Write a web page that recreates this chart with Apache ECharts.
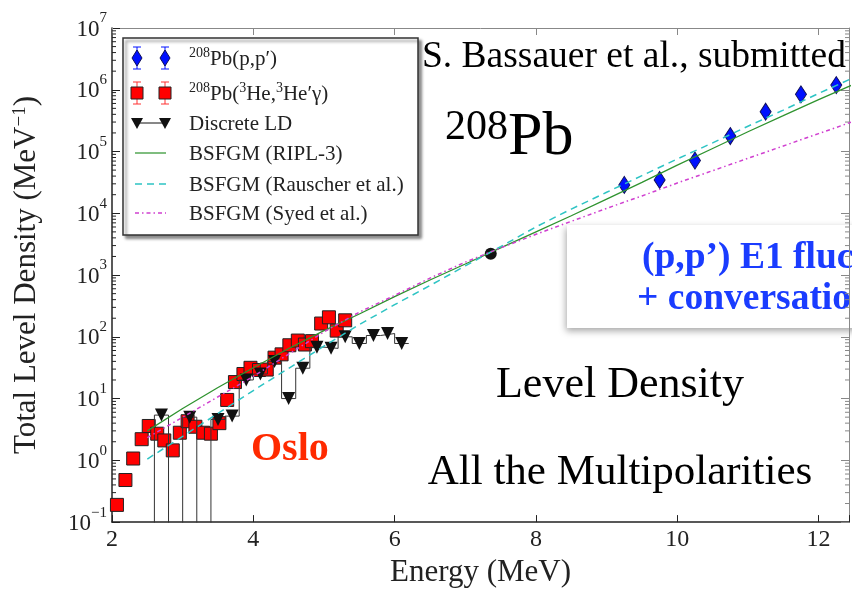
<!DOCTYPE html>
<html>
<head>
<meta charset="utf-8">
<script src="https://cdn.jsdelivr.net/npm/echarts@6/dist/echarts.min.js"></script>
<style>
  html, body { margin: 0; padding: 0; background: #fff; }
  #chart { width: 852px; height: 593px; }
</style>
</head>
<body>
<div id="chart"></div>
<script>
const SERIF = '"Liberation Serif", "Times New Roman", serif';

// 208Pb(3He,3He'γ) level density (Oslo method)
const osloE = [2.07, 2.19, 2.30, 2.42, 2.52, 2.64, 2.74, 2.86, 2.96, 3.07, 3.18, 3.29, 3.40, 3.52, 3.63, 3.74, 3.86, 3.96, 4.08, 4.19, 4.30, 4.40, 4.51, 4.63, 4.73, 4.83, 4.96, 5.07, 5.18, 5.30];
const osloRho = [0.19, 0.48, 1.07, 2.2, 3.6, 2.7, 2.1, 1.45, 2.8, 4.3, 3.5, 2.8, 2.7, 4.0, 9.5, 18.5, 25, 31.5, 29, 29.5, 46, 52, 73, 87, 75, 85, 164, 207, 126, 185];

// 208Pb(p,p') level density
const ppE = [9.25, 9.75, 10.25, 10.75, 11.25, 11.75, 12.25];
const ppRho = [28800, 34700, 71300, 178000, 441000, 843000, 1190000];

// discrete level density, 0.2 MeV bins (0 = empty bin)
const discreteE = [2.7, 2.9, 3.1, 3.3, 3.5, 3.7, 3.9, 4.1, 4.3, 4.5, 4.7, 4.9, 5.1, 5.3, 5.5, 5.7, 5.9, 6.1];
const discreteRho = [5.4, 0, 5.0, 0, 4.6, 5.2, 20, 25, 40, 10, 31, 68, 65, 100, 78, 105, 113, 78];
const discreteBin = 0.2;

// density at the neutron separation energy
const snPoint = [[7.36, 2220]];

// back-shifted Fermi gas model curves
const modelE = [2.5, 3.0, 3.5, 4.0, 4.5, 5.0, 5.5, 6.0, 6.5, 7.0, 7.5, 8.0, 8.5, 9.0, 9.5, 10.0, 10.5, 11.0, 11.5, 12.0, 12.5];
const riplRho = [3.0, 6.9, 15.1, 31.6, 64.6, 126, 234, 447, 832, 1510, 2750, 5010, 9120, 17000, 31600, 60300, 112000, 209000, 380000, 692000, 1230000];
const rauscherRho = [1.05, 2.45, 5.75, 13.5, 30.9, 70.8, 158, 331, 676, 1410, 2880, 6030, 11700, 21900, 40700, 75900, 138000, 257000, 468000, 871000, 1580000];
const syedRho = [2.34, 5.0, 10.7, 22.9, 52.5, 120, 251, 468, 891, 1620, 2750, 4570, 7410, 12000, 19100, 30900, 49000, 77600, 123000, 195000, 309000];

// axis ranges and ticks
const xRange = [2, 12.43];
const yRange = [0.1, 1e7];
const minorMultipliers = [2, 3, 4, 5, 6, 7, 8, 9];
const decades = [-1, 0, 1, 2, 3, 4, 5, 6];

const pairs = (xs, ys) => xs.map((x, i) => [x, ys[i]]);

// histogram outline for the discrete levels; empty bins drop below the axis floor
function stepOutline(centers, vals, width) {
  const floor = yRange[0] / 100;
  const pts = [[centers[0] - width / 2, floor]];
  centers.forEach((c, i) => {
    const v = vals[i] > 0 ? vals[i] : floor;
    pts.push([c - width / 2, v], [c + width / 2, v]);
  });
  return pts;
}

const minorTicks = [];
decades.forEach(d => minorMultipliers.forEach(m => minorTicks.push([xRange[0], m * Math.pow(10, d)])));

const supLabel = v => {
  const e = Math.round(Math.log10(v));
  return '{b|10}{s|' + (e < 0 ? '\u2212' + (-e) : e) + '}';
};

const chart = echarts.init(document.getElementById('chart'), null, { renderer: 'canvas' });

// legend drawn as a framed panel
const LX1 = 137, LX2 = 165, LT = 189;
const rowY = [58, 93, 123, 153, 184, 213];
const legendItems = [];
legendItems.push({
  type: 'rect', shape: { x: 123, y: 38, width: 295, height: 197 },
  style: { fill: '#fff', stroke: '#333', lineWidth: 1.5, shadowBlur: 3, shadowOffsetX: 3, shadowOffsetY: 3, shadowColor: 'rgba(0,0,0,0.45)' }
});
[LX1, LX2].forEach(x => {
  const y = rowY[0];
  legendItems.push(
    { type: 'line', shape: { x1: x, y1: y - 11, x2: x, y2: y + 11 }, style: { stroke: '#0010ff', lineWidth: 1 } },
    { type: 'line', shape: { x1: x - 4, y1: y - 11, x2: x + 4, y2: y - 11 }, style: { stroke: '#0010ff', lineWidth: 1 } },
    { type: 'line', shape: { x1: x - 4, y1: y + 11, x2: x + 4, y2: y + 11 }, style: { stroke: '#0010ff', lineWidth: 1 } },
    { type: 'polygon', shape: { points: [[x, y - 8], [x + 5, y], [x, y + 8], [x - 5, y]] }, style: { fill: '#0010ff', stroke: '#10105a', lineWidth: 1 } }
  );
  const y2 = rowY[1];
  legendItems.push(
    { type: 'line', shape: { x1: x, y1: y2 - 11, x2: x, y2: y2 + 11 }, style: { stroke: '#ff3030', lineWidth: 1 } },
    { type: 'line', shape: { x1: x - 4, y1: y2 - 11, x2: x + 4, y2: y2 - 11 }, style: { stroke: '#ff3030', lineWidth: 1 } },
    { type: 'line', shape: { x1: x - 4, y1: y2 + 11, x2: x + 4, y2: y2 + 11 }, style: { stroke: '#ff3030', lineWidth: 1 } },
    { type: 'rect', shape: { x: x - 6, y: y2 - 6, width: 12, height: 12 }, style: { fill: '#ff0000', stroke: '#222', lineWidth: 1 } }
  );
});
legendItems.push({ type: 'line', shape: { x1: LX1, y1: rowY[2], x2: LX2, y2: rowY[2] }, style: { stroke: '#111', lineWidth: 1 } });
[LX1, LX2].forEach(x => {
  const y = rowY[2];
  legendItems.push({ type: 'polygon', shape: { points: [[x - 6, y - 5], [x + 6, y - 5], [x, y + 6]] }, style: { fill: '#111' } });
});
legendItems.push(
  { type: 'line', shape: { x1: 135, y1: rowY[3], x2: 166, y2: rowY[3] }, style: { stroke: '#3a9a3a', lineWidth: 1.3 } },
  { type: 'line', shape: { x1: 135, y1: rowY[4], x2: 166, y2: rowY[4] }, style: { stroke: '#2ec4c4', lineWidth: 1.4, lineDash: [7, 5] } },
  { type: 'line', shape: { x1: 135, y1: rowY[5], x2: 166, y2: rowY[5] }, style: { stroke: '#d040d0', lineWidth: 1.4, lineDash: [4, 3, 1.5, 3] } }
);
const legendSup = {
  n: { fontSize: 21, fontFamily: SERIF, fill: '#222', lineHeight: 23, verticalAlign: 'bottom' },
  s: { fontSize: 14, fontFamily: SERIF, fill: '#222', lineHeight: 14, verticalAlign: 'top' }
};
const legendTexts = [
  '{s|208}{n|Pb(p,p\u2032)}',
  '{s|208}{n|Pb(}{s|3}{n|He,}{s|3}{n|He\u2032\u03b3)}',
  '{n|Discrete LD}',
  '{n|BSFGM (RIPL-3)}',
  '{n|BSFGM (Rauscher et al.)}',
  '{n|BSFGM (Syed et al.)}'
];
legendTexts.forEach((t, i) => {
  legendItems.push({
    type: 'text', x: LT, y: rowY[i],
    style: { text: t, fontFamily: SERIF, fontSize: 21, fill: '#222', verticalAlign: 'middle', rich: legendSup }
  });
});

const annotations = [
  { type: 'text', x: 422, y: 57, style: { text: 'S. Bassauer et al., submitted', fontFamily: SERIF, fontSize: 37.5, fill: '#000', verticalAlign: 'middle' } },
  { type: 'text', x: 445, y: 107, style: {
      text: '{s|208}{b|Pb}', verticalAlign: 'top',
      rich: {
        s: { fontSize: 42, fontFamily: SERIF, fill: '#000', lineHeight: 42, verticalAlign: 'top' },
        b: { fontSize: 62, fontFamily: SERIF, fill: '#000', lineHeight: 62, verticalAlign: 'bottom' }
      } } },
  { type: 'text', x: 620, y: 385, style: { text: 'Level Density', fontFamily: SERIF, fontSize: 44, fill: '#000', align: 'center', verticalAlign: 'middle' } },
  { type: 'text', x: 620, y: 473, style: { text: 'All the Multipolarities', fontFamily: SERIF, fontSize: 43, fill: '#000', align: 'center', verticalAlign: 'middle' } },
  { type: 'text', x: 251, y: 450, style: { text: 'Oslo', fontFamily: SERIF, fontSize: 40, fontWeight: 'bold', fill: '#ff2a00', verticalAlign: 'middle' } },
  { type: 'rect', shape: { x: 567, y: 225, width: 300, height: 103 },
    style: { fill: '#fff', shadowBlur: 7, shadowOffsetX: -1, shadowOffsetY: 3, shadowColor: 'rgba(0,0,0,0.35)' } },
  { type: 'text', x: 642, y: 258, style: { text: '(p,p\u2019) E1 fluctuations', fontFamily: SERIF, fontSize: 37.5, fontWeight: 'bold', fill: '#1a3cff', verticalAlign: 'middle' } },
  { type: 'text', x: 637, y: 299, style: { text: '+ conversation', fontFamily: SERIF, fontSize: 37.5, fontWeight: 'bold', fill: '#1a3cff', verticalAlign: 'middle' } }
];

const yRich = {
  b: { fontSize: 23, fontFamily: SERIF, color: '#222', lineHeight: 30, verticalAlign: 'bottom' },
  s: { fontSize: 15, fontFamily: SERIF, color: '#222', lineHeight: 15, verticalAlign: 'top' }
};

const option = {
  animation: false,
  backgroundColor: '#fff',
  grid: { left: 112, top: 28, right: 3, bottom: 70, containLabel: false },
  xAxis: [
    {
      type: 'value', min: xRange[0], max: xRange[1], interval: 2, position: 'bottom',
      name: 'Energy (MeV)', nameLocation: 'middle', nameGap: 33,
      nameTextStyle: { fontFamily: SERIF, fontSize: 31, color: '#222' },
      axisLine: { lineStyle: { color: '#222', width: 1.5 } },
      axisTick: { inside: true, length: 7, lineStyle: { color: '#222', width: 1 } },
      axisLabel: {
        margin: 6, fontFamily: SERIF, fontSize: 24, color: '#222',
        formatter: v => (Math.abs(v % 2) < 1e-9 ? String(v) : '')
      },
      splitLine: { show: false }
    },
    {
      type: 'value', min: xRange[0], max: xRange[1], interval: 2, position: 'top',
      axisLine: { lineStyle: { color: '#888', width: 1 } },
      axisTick: { inside: true, length: 7, lineStyle: { color: '#888' } },
      axisLabel: { show: false }, splitLine: { show: false }
    }
  ],
  yAxis: [
    {
      type: 'log', logBase: 10, min: yRange[0], max: yRange[1], interval: 1, splitNumber: 8, position: 'left',
      name: 'Total Level Density (MeV{s|\u22121})', nameLocation: 'middle', nameRotate: 90, nameGap: 70,
      nameTextStyle: {
        fontFamily: SERIF, fontSize: 31, color: '#222',
        rich: { s: { fontSize: 19, fontFamily: SERIF, color: '#222', verticalAlign: 'top', lineHeight: 19 } }
      },
      axisLine: { lineStyle: { color: '#222', width: 1.5 } },
      axisTick: { inside: true, length: 8, lineStyle: { color: '#222' } },
      axisLabel: { margin: 5, formatter: supLabel, rich: yRich, padding: [0, 0, 4, 0] },
      splitLine: { show: false }
    },
    {
      type: 'log', logBase: 10, min: yRange[0], max: yRange[1], interval: 1, splitNumber: 8, position: 'right',
      axisLine: { lineStyle: { color: '#888', width: 1 } },
      axisTick: { inside: true, length: 8, lineStyle: { color: '#888' } },
      axisLabel: { show: false }, splitLine: { show: false }
    }
  ],
  series: [
    {
      name: 'minor ticks', type: 'custom', silent: true, clip: false, z: 1,
      data: minorTicks,
      renderItem: (params, api) => {
        const y = api.coord([xRange[0], api.value(1)])[1];
        const cs = params.coordSys;
        return {
          type: 'group', children: [
            { type: 'line', shape: { x1: cs.x, y1: y, x2: cs.x + 4, y2: y }, style: { stroke: '#222', lineWidth: 1 } },
            { type: 'line', shape: { x1: cs.x + cs.width - 4, y1: y, x2: cs.x + cs.width, y2: y }, style: { stroke: '#888', lineWidth: 1 } }
          ]
        };
      }
    },
    {
      name: '208Pb(3He,3He\u2032\u03b3)', type: 'scatter', symbol: 'rect', symbolSize: 13, z: 2,
      data: pairs(osloE, osloRho),
      itemStyle: { color: '#ff0000', borderColor: '#222', borderWidth: 1, opacity: 1 }
    },
    {
      name: '208Pb(p,p\u2032)', type: 'scatter', symbol: 'diamond', symbolSize: [11, 17], z: 2,
      data: pairs(ppE, ppRho),
      itemStyle: { color: '#0010ff', borderColor: '#10105a', borderWidth: 1, opacity: 1 }
    },
    {
      name: 'Discrete LD outline', type: 'line', z: 3, clip: true, showSymbol: false, symbol: 'none',
      data: stepOutline(discreteE, discreteRho, discreteBin),
      lineStyle: { color: '#333', width: 1 }
    },
    {
      name: 'Discrete LD', type: 'scatter', symbol: 'triangle', symbolRotate: 180, symbolSize: 13, z: 4,
      data: pairs(discreteE, discreteRho).filter(p => p[1] > 0),
      itemStyle: { color: '#111', opacity: 1 }
    },
    {
      name: 'Sn', type: 'scatter', symbol: 'circle', symbolSize: 12, z: 4,
      data: snPoint, itemStyle: { color: '#111', opacity: 1 }
    },
    {
      name: 'BSFGM (RIPL-3)', type: 'line', z: 5, showSymbol: false, symbol: 'none', clip: true,
      data: pairs(modelE, riplRho), lineStyle: { color: '#2f932f', width: 1.3 }
    },
    {
      name: 'BSFGM (Rauscher et al.)', type: 'line', z: 5, showSymbol: false, symbol: 'none', clip: true,
      data: pairs(modelE, rauscherRho), lineStyle: { color: '#2ec4c4', width: 1.5, type: [7, 5] }
    },
    {
      name: 'BSFGM (Syed et al.)', type: 'line', z: 5, showSymbol: false, symbol: 'none', clip: true,
      data: pairs(modelE, syedRho), lineStyle: { color: '#d040d0', width: 1.5, type: [4, 3, 1.5, 3] }
    }
  ],
  graphic: [
    { type: 'group', z: 100, children: legendItems },
    { type: 'group', z: 100, children: annotations }
  ]
};

chart.setOption(option);
</script>
</body>
</html>
